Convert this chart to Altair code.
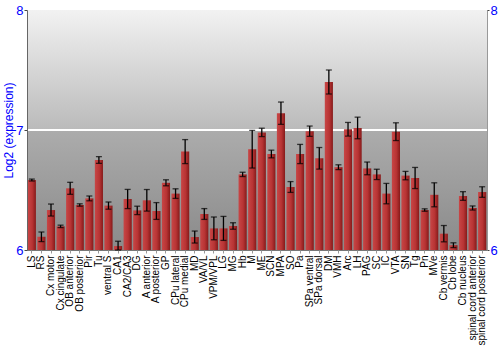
import altair as alt
import pandas as pd

regions = ["LS", "RS", "Cx motor", "Cx cingulate", "OB anterior", "OB posterior", "Pir", "Tu",
           "ventral S", "CA1", "CA2/CA3", "DG", "A anterior", "A posterior", "GP", "CPu lateral",
           "CPu medial", "MD", "VA/VL", "VPM/VPL", "LG", "MG", "Hb", "M", "ME", "SCN", "MPA",
           "SO", "Pa", "SPa ventral", "SPa dorsal", "DM", "VMH", "Arc", "LH", "PAG", "SC", "IC",
           "VTA", "SN", "Tg", "Pn", "MVe", "Cb vermis", "Cb lobe", "Cb nucleus",
           "spinal cord anterior", "spinal cord posterior"]
means = [6.583, 6.11, 6.333, 6.197, 6.514, 6.375, 6.43, 6.75,
         6.37, 6.033, 6.425, 6.33, 6.414, 6.325, 6.56, 6.47,
         6.82, 6.108, 6.30, 6.18, 6.18, 6.20, 6.63, 6.84, 6.98, 6.80, 7.14,
         6.525, 6.80, 6.99, 6.764, 7.40, 6.69, 7.006, 7.017, 6.68, 6.63, 6.47,
         6.986, 6.62, 6.60, 6.333, 6.46, 6.136, 6.04, 6.45,
         6.35, 6.483]
errs = [0.008, 0.04, 0.05, 0.01, 0.05, 0.01, 0.02, 0.028,
        0.03, 0.04, 0.08, 0.035, 0.09, 0.07, 0.025, 0.04,
        0.10, 0.05, 0.045, 0.095, 0.10, 0.027, 0.018, 0.157, 0.035, 0.032, 0.093,
        0.045, 0.08, 0.043, 0.09, 0.10, 0.02, 0.057, 0.09, 0.053, 0.043, 0.085,
        0.074, 0.035, 0.088, 0.01, 0.10, 0.068, 0.02, 0.036,
        0.017, 0.044]
tick_values = [6, 7, 8]

df = pd.DataFrame({"region": regions, "mean": means, "err": errs})
df["lo"] = df["mean"] - df["err"]
df["hi"] = df["mean"] + df["err"]

yscale = alt.Scale(domain=[6, 8], zero=False, nice=False, clamp=True)
xenc = alt.X("region:N", sort=regions, title=None,
             scale=alt.Scale(paddingInner=0.15, paddingOuter=0.08),
             axis=alt.Axis(labelAngle=-90, labelFontSize=10, labelColor="black",
                           labelFont="Liberation Sans", tickSize=3, tickColor="#999",
                           domain=False, labelPadding=2))

bg = alt.Chart(pd.DataFrame({"a": [0]})).mark_rect(
    fill=alt.Gradient(gradient="linear", x1=0, x2=0, y1=0, y2=1,
                      stops=[alt.GradientStop(color="#f2f2f2", offset=0),
                             alt.GradientStop(color="#bababa", offset=0.5),
                             alt.GradientStop(color="#acacac", offset=0.5),
                             alt.GradientStop(color="#8a8a8a", offset=1)])
).encode(
    y=alt.Y(datum=8, scale=yscale,
            axis=alt.Axis(orient="right", values=tick_values, format="d", title=None,
                          labelColor="blue", labelFontSize=13, labelFont="Liberation Sans",
                          labelOverlap=False, labelFlush=False, zindex=1,
                          tickSize=2, tickColor="#444", domainColor="#999",
                          labelPadding=1, grid=False)),
    y2=alt.datum(6),
)

rule7 = alt.Chart(pd.DataFrame({"a": [0]})).mark_rule(color="white", strokeWidth=2).encode(
    y=alt.Y(datum=7, scale=yscale,
            axis=alt.Axis(orient="left", values=tick_values, title="Log2 (expression)",
                          labels=False, ticks=False, domain=False, grid=False,
                          titleColor="blue", titleFontSize=12, titleFontWeight="normal",
                          titleFont="Liberation Sans", titleX=-19, titleY=120,
                          titleAngle=270, titleAlign="center", titleBaseline="middle"))
)

bars = alt.Chart(df).mark_bar(
    fill=alt.Gradient(gradient="linear", x1=0, x2=1, y1=0, y2=0,
                      stops=[alt.GradientStop(color="#c84646", offset=0),
                             alt.GradientStop(color="#b83434", offset=0.55),
                             alt.GradientStop(color="#861a1a", offset=1)])
).encode(
    x=xenc,
    y=alt.Y("mean:Q", scale=yscale,
            axis=alt.Axis(orient="left", values=tick_values, labelExpr="'' + datum.value",
                          title=None,
                          labelColor="blue", labelFontSize=13, labelFont="Liberation Sans",
                          labelOverlap=False, labelFlush=False, zindex=1,
                          tickSize=3, tickColor="#444", domainColor="#666",
                          labelPadding=1, grid=False)),
    y2=alt.datum(6),
)

errbar = alt.Chart(df).mark_rule(color="black", strokeWidth=1.3).encode(
    x=alt.X("region:N", sort=regions),
    y=alt.Y("lo:Q", scale=yscale, axis=None),
    y2="hi:Q",
)
cap_lo = alt.Chart(df).mark_tick(color="black", size=6, thickness=1.3).encode(
    x=alt.X("region:N", sort=regions),
    y=alt.Y("lo:Q", scale=yscale, axis=None),
)
cap_hi = alt.Chart(df).mark_tick(color="black", size=6, thickness=1.3).encode(
    x=alt.X("region:N", sort=regions),
    y=alt.Y("hi:Q", scale=yscale, axis=None),
)

chart = alt.layer(bg, rule7, bars, errbar, cap_lo, cap_hi).resolve_axis(
    y="independent"
).properties(
    width=460, height=240,
    autosize=alt.AutoSizeParams(type="none"),
    padding={"left": 27, "top": 10, "right": 13, "bottom": 100},
    background="white",
).configure_view(stroke="#777", strokeWidth=1)

chart.save("out.html", embed_options={"renderer": "svg", "actions": False})
